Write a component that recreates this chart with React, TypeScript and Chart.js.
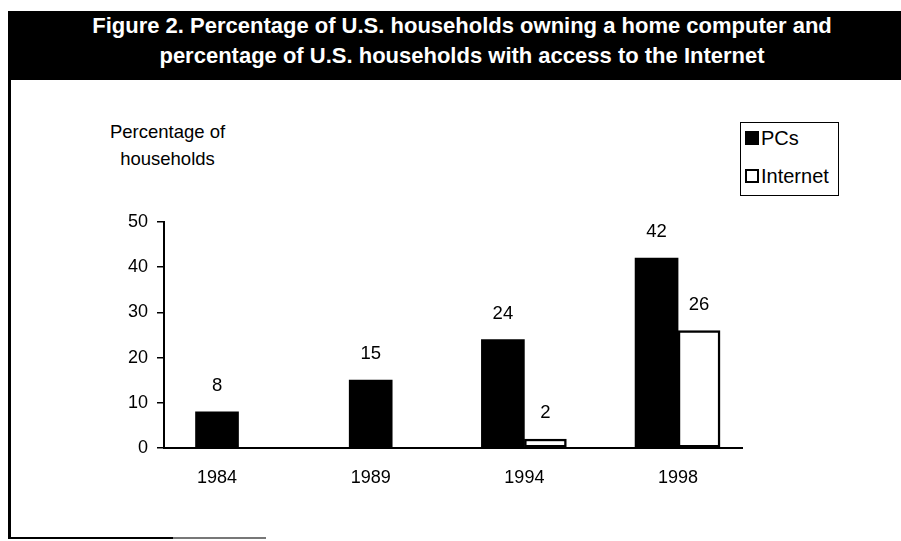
import React, { useEffect, useRef } from "react";
import { Chart, registerables } from "chart.js";

Chart.register(...registerables);

const categories = ["1984", "1989", "1994", "1998"];
const pcsValues: (number | null)[] = [8, 15, 24, 42];
const internetValues: (number | null)[] = [null, null, 2, 26];
const yTickValues = [0, 10, 20, 30, 40, 50];
const seriesNames = ["PCs", "Internet"];
const titleLines = [
  "Figure 2. Percentage of U.S. households owning a home computer and",
  "percentage of U.S. households with access to the Internet",
];
const yTitleLines = ["Percentage of", "households"];

const FONT = "'Liberation Sans', Arial, Helvetica, sans-serif";

const valueLabels = {
  id: "valueLabels",
  afterDatasetsDraw(chart: any) {
    const ctx = chart.ctx;
    ctx.save();
    ctx.font = `18.5px ${FONT}`;
    ctx.fillStyle = "#000";
    ctx.textAlign = "center";
    ctx.textBaseline = "middle";
    chart.data.datasets.forEach((ds: any, di: number) => {
      const meta = chart.getDatasetMeta(di);
      meta.data.forEach((bar: any, i: number) => {
        const v = ds.data[i].y;
        if (v === null || v === undefined) return;
        ctx.fillText(String(v), bar.x, bar.y - 26);
      });
    });
    ctx.restore();
  },
};

export default function App() {
  const canvasRef = useRef<HTMLCanvasElement | null>(null);

  useEffect(() => {
    const canvas = canvasRef.current;
    if (!canvas) return;
    const chart = new Chart(canvas, {
      type: "bar",
      data: {
        datasets: [
          {
            label: seriesNames[0],
            data: categories.map((_, i) => ({ x: i, y: pcsValues[i] })) as any,
            backgroundColor: "#000",
            borderColor: "#000",
            borderWidth: 0,
            barThickness: 43,
          },
          {
            label: seriesNames[1],
            data: categories.map((_, i) => ({ x: i, y: internetValues[i] })) as any,
            backgroundColor: "#fff",
            borderColor: "#000",
            borderWidth: 2.5,
            borderSkipped: false,
            barThickness: 42,
          },
        ],
      },
      options: {
        responsive: false,
        animation: false,
        devicePixelRatio: 1,
        skipNull: true,
        layout: { padding: { top: 222, right: 159, bottom: 53, left: 0 } },
        plugins: {
          legend: { display: false },
          title: { display: false },
          tooltip: { enabled: false },
        },
        scales: {
          x: {
            type: "linear",
            offset: false,
            min: -0.345,
            max: 3.416,
            afterBuildTicks: (s: any) => {
              s.ticks = categories.map((_, i) => ({ value: i }));
            },
            afterFit: (s: any) => {
              s.height = 40;
            },
            ticks: {
              autoSkip: false,
              maxRotation: 0,
              padding: 19,
              color: "#000",
              font: { family: FONT, size: 18 },
              callback: (v: any) => categories[v] ?? "",
            },
            grid: { display: true, drawOnChartArea: false, drawTicks: false, color: "#000" },
            border: { display: true, color: "#000", width: 2 },
          },
          y: {
            min: 0,
            max: 50,
            afterBuildTicks: (s: any) => {
              s.ticks = yTickValues.map((v) => ({ value: v }));
            },
            afterFit: (s: any) => {
              s.width = 164;
            },
            ticks: {
              padding: 9,
              color: "#000",
              font: { family: FONT, size: 18 },
            },
            grid: {
              display: true,
              drawOnChartArea: false,
              drawTicks: true,
              tickLength: 7,
              color: "#000",
              lineWidth: 1.5,
            },
            border: { display: true, color: "#000", width: 2 },
          },
        },
      } as any,
      plugins: [valueLabels],
    });
    return () => chart.destroy();
  }, []);

  return (
    <div
      style={{
        position: "fixed",
        left: 0,
        top: 0,
        width: 901,
        height: 541,
        background: "#fff",
        overflow: "hidden",
        fontFamily: FONT,
        color: "#000",
      }}
    >
      <div
        style={{
          position: "absolute",
          left: 8,
          top: 11,
          width: 893,
          height: 69,
          background: "#000",
          color: "#fff",
          boxSizing: "border-box",
          paddingLeft: 15,
          textAlign: "center",
          fontWeight: "bold",
          fontSize: 22,
          lineHeight: "30px",
        }}
      >
        {titleLines.map((t) => (
          <div key={t}>{t}</div>
        ))}
      </div>
      <div style={{ position: "absolute", left: 8, top: 77, width: 3, height: 462, background: "#000" }} />
      <div style={{ position: "absolute", left: 8, top: 537, width: 165, height: 2, background: "#000" }} />
      <div style={{ position: "absolute", left: 173, top: 537, width: 93, height: 2, background: "#777" }} />
      <div
        style={{
          position: "absolute",
          left: 100,
          top: 118,
          width: 135,
          textAlign: "center",
          fontSize: 18.5,
          lineHeight: "27px",
        }}
      >
        {yTitleLines.map((t) => (
          <div key={t}>{t}</div>
        ))}
      </div>
      <div
        style={{
          position: "absolute",
          left: 740,
          top: 122,
          width: 99,
          height: 74,
          border: "1.5px solid #000",
          boxSizing: "border-box",
          fontSize: 20,
        }}
      >
        <div style={{ position: "absolute", left: 4, top: 8, width: 14, height: 14, background: "#000" }} />
        <div style={{ position: "absolute", left: 20, top: 3, lineHeight: "24px" }}>{seriesNames[0]}</div>
        <div
          style={{
            position: "absolute",
            left: 4,
            top: 46,
            width: 14,
            height: 14,
            border: "2.5px solid #000",
            boxSizing: "border-box",
            background: "#fff",
          }}
        />
        <div style={{ position: "absolute", left: 20, top: 41, lineHeight: "24px" }}>{seriesNames[1]}</div>
      </div>
      <canvas
        ref={canvasRef}
        width={901}
        height={541}
        style={{ position: "absolute", left: 0, top: 0, width: 901, height: 541 }}
      />
    </div>
  );
}
